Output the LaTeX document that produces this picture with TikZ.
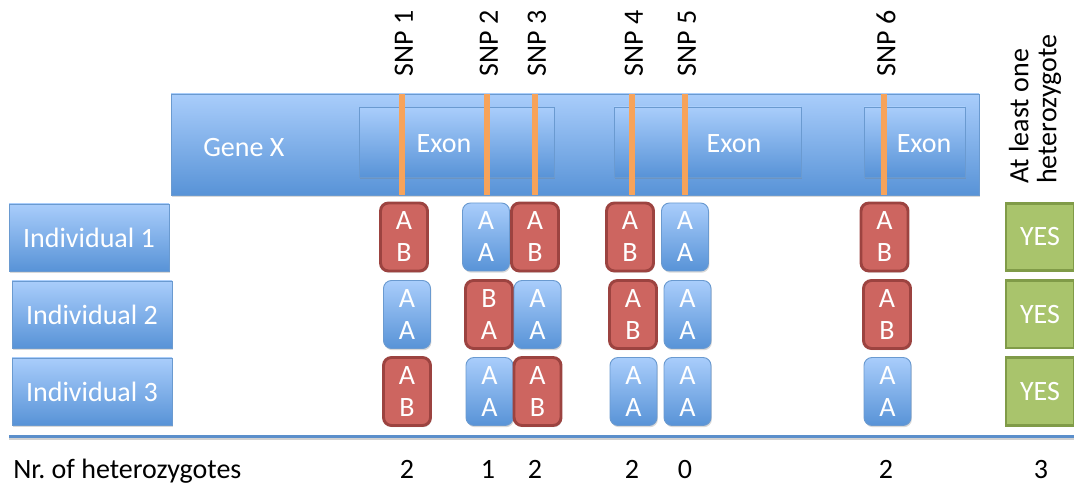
\documentclass[tikz,border=0pt]{standalone}
\usepackage{fontspec}
\setmainfont{Carlito}
\frenchspacing
\usetikzlibrary{shadows}
\definecolor{bluetop}{HTML}{A9CDFB}
\definecolor{bluebot}{HTML}{5893D7}
\definecolor{blueborder}{HTML}{6A9AD0}
\definecolor{redfill}{HTML}{CD6560}
\definecolor{redborder}{HTML}{9C4340}
\definecolor{greenfill}{HTML}{A9C46C}
\definecolor{greenborder}{HTML}{809B48}
\definecolor{snporange}{HTML}{F7A35A}
\definecolor{sepblue}{HTML}{5B8FCB}
\tikzset{
  txt/.style={font=\fontsize{21}{24}\selectfont, inner sep=0pt},
  shad/.style={drop shadow={shadow xshift=0.7pt, shadow yshift=-1.3pt, opacity=0.3}},
  bluebox/.style={top color=bluetop, bottom color=bluebot, draw=blueborder, line width=0.7pt, shad},
  genebox/.style={bluebox, minimum width=606pt, minimum height=75.75pt, inner sep=0pt},
  exonbox/.style={bluebox, minimum height=52.5pt, inner sep=0pt},
  indbox/.style={bluebox, txt, text=white, minimum width=120pt, minimum height=50.25pt},
  geno/.style={txt, text=white, align=center, minimum width=35.25pt, minimum height=51pt, rounded corners=6pt},
  het/.style={geno, fill=redfill, draw=redborder, line width=2.2pt, shad},
  hom/.style={geno, bluebox, line width=0.7pt},
  yesbox/.style={txt, text=white, fill=greenfill, draw=greenborder, line width=2pt, minimum width=51pt, minimum height=50.5pt},
  snpline/.style={draw=snporange, line width=4.5pt},
  snplbl/.style={txt, rotate=90, anchor=west},
  cnt/.style={txt, anchor=base}
}
\begin{document}
\begin{tikzpicture}[x=0.75pt, y=-0.75pt]
\useasboundingbox (0,0) rectangle (1074,484);
% gene and exons
\node[genebox] (gene) at (575,144.5) {};
\node[exonbox, minimum width=146.25pt] (exon1) at (456.5,142.5) {};
\node[exonbox, minimum width=140.25pt] (exon2) at (707.5,142) {};
\node[exonbox, minimum width=75.75pt] (exon3) at (914.5,142) {};
\node[txt, text=white, anchor=base west] (genelbl) at (203,157) {Gene X};
\node[txt, text=white, anchor=base] (exlbl1) at (444,153) {Exon};
\node[txt, text=white, anchor=base] (exlbl2) at (734,153) {Exon};
\node[txt, text=white, anchor=base] (exlbl3) at (924,153) {Exon};
% SNP lines
\foreach \i/\x in {1/402,2/487,3/535,4/632,5/685,6/884}{
  \coordinate (st\i) at (\x,94);
  \coordinate (sb\i) at (\x,195);
  \draw[snpline] (st\i) -- (sb\i);
  \node[snplbl] (snp\i) at (\x+2,77) {SNP \i};
}
\node[txt, rotate=90, anchor=west, align=left, font=\fontsize{21}{21}\selectfont] (hdr) at (1035,184) {At least one\\heterozygote};
% individuals
\node[indbox] (ind1) at (89,237.5) {Individual 1};
\node[indbox] (ind2) at (92,314.5) {Individual 2};
\node[indbox] (ind3) at (92,391.5) {Individual 3};
% genotypes row 1
\node[het] (g11) at (404,237) {A\\B};
\node[hom] (g12) at (486,237) {A\\A};
\node[het] (g13) at (535,237) {A\\B};
\node[het] (g14) at (630,237) {A\\B};
\node[hom] (g15) at (685,237) {A\\A};
\node[het] (g16) at (884.5,237) {A\\B};
% row 2
\node[hom] (g21) at (407,314.5) {A\\A};
\node[het] (g22) at (489,314.5) {B\\A};
\node[hom] (g23) at (537.5,314.5) {A\\A};
\node[het] (g24) at (633,314.5) {A\\B};
\node[hom] (g25) at (687.5,314.5) {A\\A};
\node[het] (g26) at (887,314.5) {A\\B};
% row 3
\node[het] (g31) at (407,391.5) {A\\B};
\node[hom] (g32) at (489.5,391.5) {A\\A};
\node[het] (g33) at (537.5,391.5) {A\\B};
\node[hom] (g34) at (633.5,391.5) {A\\A};
\node[hom] (g35) at (687.5,391.5) {A\\A};
\node[hom] (g36) at (887.5,391.5) {A\\A};
% yes boxes
\node[yesbox] (yes1) at (1040,237) {YES};
\node[yesbox] (yes2) at (1040,314.5) {YES};
\node[yesbox] (yes3) at (1040,391.5) {YES};
% separator
\coordinate (sepL) at (9,436);
\coordinate (sepR) at (1074,436);
\draw[black, opacity=0.18, line width=2.5pt] ([yshift=-1.5pt]sepL) -- ([yshift=-1.5pt]sepR);
\draw[sepblue, line width=2.25pt] (sepL) -- (sepR);
% counts
\node[txt, anchor=base west] (nrlbl) at (13,478) {Nr. of heterozygotes};
\node[cnt] (c1) at (407,478) {2};
\node[cnt] (c2) at (488,478) {1};
\node[cnt] (c3) at (535,478) {2};
\node[cnt] (c4) at (632,478) {2};
\node[cnt] (c5) at (685,478) {0};
\node[cnt] (c6) at (886,478) {2};
\node[cnt] (c7) at (1041,478) {3};
\end{tikzpicture}
\end{document}
